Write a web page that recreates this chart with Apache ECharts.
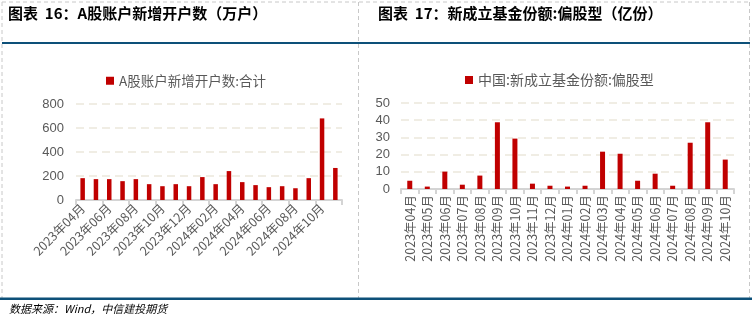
<!DOCTYPE html>
<html>
<head>
<meta charset="utf-8">
<script src="https://cdn.jsdelivr.net/npm/echarts@6/dist/echarts.min.js"></script>
<style>
  html, body { margin: 0; padding: 0; background: #fff; }
  #main { width: 752px; height: 322px; }
</style>
</head>
<body>
<div id="main"></div>
<script>
// 图表16：A股账户新增开户数（万户），2023年04月—2024年11月
const accountMonths = [
  '2023年04月','2023年05月','2023年06月','2023年07月','2023年08月','2023年09月','2023年10月',
  '2023年11月','2023年12月','2024年01月','2024年02月','2024年03月','2024年04月','2024年05月',
  '2024年06月','2024年07月','2024年08月','2024年09月','2024年10月','2024年11月'
];
const accountNew = [182, 174, 174, 157, 174, 132, 115, 132, 115, 191, 132, 241, 149, 124, 107, 115, 98, 182, 680, 267];
const accountTicks = [0, 200, 400, 600, 800];

// 图表17：新成立基金份额:偏股型（亿份），2023年04月—2024年10月
const fundMonths = [
  '2023年04月','2023年05月','2023年06月','2023年07月','2023年08月','2023年09月','2023年10月',
  '2023年11月','2023年12月','2024年01月','2024年02月','2024年03月','2024年04月','2024年05月',
  '2024年06月','2024年07月','2024年08月','2024年09月','2024年10月'
];
const fundShares = [4.8, 1.4, 10.1, 2.5, 7.8, 38.8, 29.3, 3.1, 1.9, 1.4, 1.9, 21.7, 20.5, 4.8, 8.9, 1.9, 26.9, 38.8, 17.1];
const fundTicks = [0, 10, 20, 30, 40, 50];

const RED = '#c00000';
const LABEL = '#595959';
const NAVY = '#0d5079';
const FRAME = '#c8c8c8';
const SANS = '"Noto Sans CJK SC", "Microsoft YaHei", sans-serif';

const chart = echarts.init(document.getElementById('main'), null, { renderer: 'canvas' });

function yAxisOf(gridIndex, ticks, margin) {
  return {
    type: 'value',
    gridIndex: gridIndex,
    min: ticks[0],
    max: ticks[ticks.length - 1],
    interval: ticks[1] - ticks[0],
    axisLine: { show: false },
    axisTick: { show: false },
    axisLabel: { color: LABEL, fontSize: 13, fontFamily: 'Arial, "Liberation Sans", sans-serif', margin: margin },
    splitLine: { lineStyle: { color: '#ebe7dc', width: 1.5, type: [8, 5] } }
  };
}

function xAxisOf(gridIndex, cats, rotate, interval) {
  return {
    type: 'category',
    gridIndex: gridIndex,
    data: cats,
    axisLine: { lineStyle: { color: '#d4d4d4', width: 2 } },
    axisTick: { show: true, length: 5, lineStyle: { color: '#d4d4d4', width: 2 } },
    axisLabel: {
      color: LABEL, fontSize: 12.5, fontFamily: SANS,
      rotate: rotate, interval: interval, margin: 6
    }
  };
}

const option = {
  animation: false,
  backgroundColor: '#fff',
  grid: [
    { left: 76, right: 410, top: 104, bottom: 122 },
    { left: 401, right: 18, top: 103, bottom: 133 }
  ],
  legend: [
    {
      data: ['A股账户新增开户数:合计'],
      left: 101, top: 69,
      itemWidth: 8, itemHeight: 8, itemGap: 5,
      icon: 'rect',
      textStyle: { color: LABEL, fontSize: 13.5, fontFamily: SANS }
    },
    {
      data: ['中国:新成立基金份额:偏股型'],
      left: 460, top: 68,
      itemWidth: 8, itemHeight: 8, itemGap: 5,
      icon: 'rect',
      textStyle: { color: LABEL, fontSize: 14, fontFamily: SANS }
    }
  ],
  xAxis: [
    xAxisOf(0, accountMonths, 45, 1),
    xAxisOf(1, fundMonths, 90, 0)
  ],
  yAxis: [
    yAxisOf(0, accountTicks, 12),
    yAxisOf(1, fundTicks, 11)
  ],
  series: [
    {
      name: 'A股账户新增开户数:合计',
      type: 'bar',
      xAxisIndex: 0, yAxisIndex: 0,
      data: accountNew,
      barWidth: 4.5,
      itemStyle: { color: RED }
    },
    {
      name: '中国:新成立基金份额:偏股型',
      type: 'bar',
      xAxisIndex: 1, yAxisIndex: 1,
      data: fundShares,
      barWidth: 5,
      itemStyle: { color: RED }
    }
  ],
  graphic: [
    // panel frames (dashed)
    { type: 'line', shape: { x1: 2, y1: 2, x2: 750, y2: 2 }, style: { stroke: FRAME, lineWidth: 1, lineDash: [4, 3] }, silent: true },
    { type: 'line', shape: { x1: 2, y1: 2, x2: 2, y2: 298 }, style: { stroke: FRAME, lineWidth: 1, lineDash: [4, 3] }, silent: true },
    { type: 'line', shape: { x1: 358.5, y1: 2, x2: 358.5, y2: 298 }, style: { stroke: FRAME, lineWidth: 1, lineDash: [4, 3] }, silent: true },
    { type: 'line', shape: { x1: 749.5, y1: 2, x2: 749.5, y2: 298 }, style: { stroke: FRAME, lineWidth: 1, lineDash: [4, 3] }, silent: true },
    // header rule and footer rule
    { type: 'rect', shape: { x: 2, y: 42, width: 748, height: 2 }, style: { fill: NAVY }, silent: true },
    { type: 'rect', shape: { x: 0, y: 297.5, width: 752, height: 2.5 }, style: { fill: NAVY }, silent: true },
    // titles
    {
      type: 'text', left: 8, top: 6,
      style: { text: '图表  16：A股账户新增开户数（万户）', fill: '#000', font: 'bold 15px ' + SANS }
    },
    {
      type: 'text', left: 378, top: 6,
      style: { text: '图表  17：新成立基金份额:偏股型（亿份）', fill: '#000', font: 'bold 15px ' + SANS }
    },
    // source note
    {
      type: 'text', left: 9, top: 303,
      style: { text: '数据来源：Wind，中信建投期货', fill: '#000', font: 'italic 11px ' + SANS }
    }
  ]
};

chart.setOption(option);
</script>
</body>
</html>
